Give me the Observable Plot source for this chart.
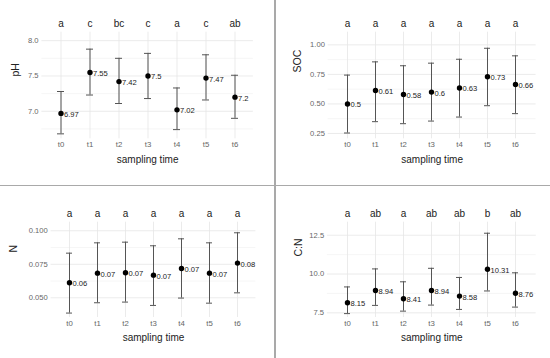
<!DOCTYPE html>
<html><head><meta charset="utf-8">
<script src="https://cdn.jsdelivr.net/npm/d3@7"></script>
<script src="https://cdn.jsdelivr.net/npm/@observablehq/plot@0.6"></script>
<style>
body{margin:0;background:#fff;}
#wrap{position:relative;width:550px;height:358px;overflow:hidden;background:#fff;}
.p{position:absolute;}
.vsep{position:absolute;left:274.4px;top:0;width:1.3px;height:358px;background:#a9a9a9;}
.hsep{position:absolute;left:0;top:185px;width:550px;height:1.3px;background:#a9a9a9;}
</style></head><body><div id="wrap"><div class="vsep"></div><div class="hsep"></div></div>
<script>
const times = ["t0", "t1", "t2", "t3", "t4", "t5", "t6"];

const phMean = [6.97, 7.55, 7.42, 7.5, 7.02, 7.47, 7.2];
const phLo = [6.68, 7.23, 7.11, 7.18, 6.74, 7.16, 6.90];
const phHi = [7.28, 7.88, 7.75, 7.82, 7.33, 7.80, 7.51];
const phLabels = ["6.97", "7.55", "7.42", "7.5", "7.02", "7.47", "7.2"];
const phLetters = ["a", "c", "bc", "c", "a", "c", "ab"];
const phTicks = [7.0, 7.5, 8.0];
const phMinor = [6.75, 7.25, 7.75];

const socMean = [0.5, 0.614, 0.58, 0.6, 0.635, 0.73, 0.665];
const socLo = [0.254, 0.35, 0.333, 0.355, 0.389, 0.485, 0.418];
const socHi = [0.744, 0.856, 0.823, 0.845, 0.878, 0.971, 0.907];
const socLabels = ["0.5", "0.61", "0.58", "0.6", "0.63", "0.73", "0.66"];
const socLetters = ["a", "a", "a", "a", "a", "a", "a"];
const socTicks = [0.25, 0.5, 0.75, 1.0];
const socMinor = [0.375, 0.625, 0.875];

const nMean = [0.0612, 0.0684, 0.0687, 0.0669, 0.0719, 0.0684, 0.0759];
const nLo = [0.0386, 0.0463, 0.0468, 0.0443, 0.0498, 0.0460, 0.0537];
const nHi = [0.0833, 0.0910, 0.0915, 0.0888, 0.0940, 0.0910, 0.0985];
const nLabels = ["0.06", "0.07", "0.07", "0.07", "0.07", "0.07", "0.08"];
const nLetters = ["a", "a", "a", "a", "a", "a", "a"];
const nTicks = [0.05, 0.075, 0.1];
const nMinor = [0.0625, 0.0875];

const cnMean = [8.15, 8.94, 8.41, 8.94, 8.58, 10.31, 8.76];
const cnLo = [7.45, 7.98, 7.61, 8.0, 7.72, 8.91, 7.87];
const cnHi = [9.17, 10.33, 9.5, 10.37, 9.78, 12.63, 10.08];
const cnLabels = ["8.15", "8.94", "8.41", "8.94", "8.58", "10.31", "8.76"];
const cnLetters = ["a", "ab", "a", "ab", "ab", "b", "ab"];
const cnTicks = [7.5, 10.0, 12.5];
const cnMinor = [8.75, 11.25];

const FONT = "'Liberation Sans', Arial, sans-serif";

function panel(o) {
  const data = times.map((t, i) => ({t, mean: o.mean[i], lo: o.lo[i], hi: o.hi[i], label: o.labels[i], letter: o.letters[i]}));
  const chart = Plot.plot({
    width: o.width, height: o.height,
    marginLeft: o.m[0], marginRight: o.m[1], marginTop: o.m[2], marginBottom: o.m[3],
    style: {fontFamily: FONT, background: "transparent", overflow: "visible"},
    x: {type: "band", domain: times, paddingInner: 0.77, paddingOuter: 0.485, align: 0.5, axis: null},
    y: {domain: o.domain, axis: null},
    marks: [
      Plot.gridY(o.minor, {stroke: "#f0f0f0", strokeOpacity: 1, strokeWidth: 0.6}),
      Plot.gridY(o.ticks, {stroke: "#e6e6e6", strokeOpacity: 1, strokeWidth: 0.8}),
      Plot.gridX(times, {stroke: "#e6e6e6", strokeOpacity: 1, strokeWidth: 0.8}),
      Plot.ruleX(data, {x: "t", y1: "lo", y2: "hi", stroke: "#555", strokeWidth: 1}),
      Plot.tickY(data, {x: "t", y: "lo", stroke: "#555", strokeWidth: 1}),
      Plot.tickY(data, {x: "t", y: "hi", stroke: "#555", strokeWidth: 1}),
      Plot.dot(data, {x: "t", y: "mean", r: 2.7, fill: "#000", stroke: "none"}),
      Plot.text(data, {x: "t", y: "mean", text: "label", textAnchor: "start", dx: 3, dy: 1, fontSize: 7.6, fill: "#222"}),
      Plot.text(data, {x: "t", text: "letter", frameAnchor: "top", dy: -12.7, fontSize: 10, fill: "#222"}),
      Plot.axisY(o.ticks, {tickSize: 0, tickPadding: 3.3, tickFormat: o.fmt, fontSize: 7.6, color: "#666", label: null}),
      Plot.axisX(times, {tickSize: 0, tickPadding: 3, fontSize: 7.8, color: "#666", label: null}),
      Plot.text(["sampling time"], {frameAnchor: "bottom", dy: 23.7, fontSize: 10, fill: "#222"}),
      Plot.text([o.yTitle], {frameAnchor: "left", rotate: -90, dx: o.tdx, dy: o.tdy, fontSize: 10.5, fill: "#222"})
    ]
  });
  chart.classList.add("p");
  chart.style.left = o.left + "px";
  chart.style.top = o.top + "px";
  document.getElementById("wrap").appendChild(chart);
}

panel({mean: phMean, lo: phLo, hi: phHi, labels: phLabels, letters: phLetters, ticks: phTicks, minor: phMinor,
  fmt: d3.format(".1f"), domain: [6.61, 8.12], yTitle: "pH", width: 274, height: 185,
  m: [41.4, 21.1, 31.7, 46.7], left: 0, top: 0, tdx: -26.4, tdy: -9});
panel({mean: socMean, lo: socLo, hi: socHi, labels: socLabels, letters: socLetters, ticks: socTicks, minor: socMinor,
  fmt: d3.format(".2f"), domain: [0.205, 1.107], yTitle: "SOC", width: 274, height: 185,
  m: [51.7, 14.4, 31.7, 46.7], left: 276, top: 0, tdx: -30.7, tdy: -13});
panel({mean: nMean, lo: nLo, hi: nHi, labels: nLabels, letters: nLetters, ticks: nTicks, minor: nMinor,
  fmt: d3.format(".3f"), domain: [0.0353, 0.1064], yTitle: "N", width: 274, height: 172,
  m: [50.6, 18.6, 35.7, 41], left: 0, top: 186, tdx: -37.9, tdy: -17.3});
panel({mean: cnMean, lo: cnLo, hi: cnHi, labels: cnLabels, letters: cnLetters, ticks: cnTicks, minor: cnMinor,
  fmt: d3.format(".1f"), domain: [7.2, 13.34], yTitle: "C:N", width: 274, height: 172,
  m: [50.9, 14.3, 35.7, 41], left: 276, top: 186, tdx: -28.6, tdy: -13.3});
</script>
</body></html>
